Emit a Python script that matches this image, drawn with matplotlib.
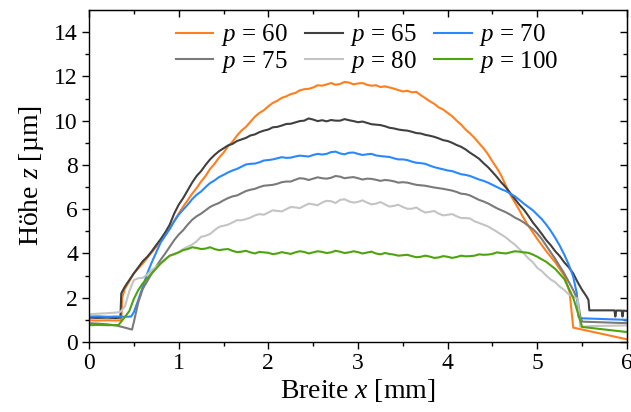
import matplotlib
matplotlib.use("Agg")
import matplotlib.pyplot as plt

plt.rcParams["font.family"] = ["Liberation Serif", "DejaVu Serif"]
plt.rcParams["mathtext.fontset"] = "custom"
plt.rcParams["mathtext.rm"] = "Liberation Serif"
plt.rcParams["mathtext.it"] = "Liberation Serif:italic"

# Height profiles z [µm] across the track width x [mm] for different p
x60 = [0, 0.1, 0.2, 0.3, 0.36, 0.37, 0.4, 0.5, 0.6, 0.7, 0.8, 0.9,
       1.0, 1.05, 1.1, 1.15, 1.2, 1.25, 1.3, 1.35, 1.4, 1.45, 1.5, 1.55, 1.6, 1.65, 1.7, 1.75,
       1.8, 1.85, 1.9, 1.95, 2.0, 2.05, 2.1, 2.15, 2.2, 2.25, 2.3, 2.35, 2.4, 2.45, 2.5, 2.55,
       2.6, 2.65, 2.7, 2.75, 2.8, 2.85, 2.9, 2.95, 3.0, 3.05, 3.1, 3.15, 3.2, 3.25, 3.3, 3.35,
       3.4, 3.45, 3.5, 3.55, 3.6, 3.65, 3.7, 3.75, 3.8, 3.85, 3.9, 3.95, 4.0, 4.05, 4.1, 4.15,
       4.2, 4.25, 4.3, 4.35, 4.4, 4.45, 4.5, 4.55, 4.6, 4.65, 4.7, 4.75, 4.8, 4.85, 4.9, 4.95,
       5.0, 5.1, 5.2, 5.3, 5.36, 5.4, 6.0]
z60 = [0.98, 0.97, 0.98, 0.97, 0.98, 2.0, 2.4, 3.1, 3.55, 4.05, 4.55, 5.15,
       5.8, 6.12, 6.4, 6.7, 6.95, 7.25, 7.5, 7.82, 8.05, 8.33, 8.55, 8.84, 9.05, 9.32, 9.55, 9.72,
       9.95, 10.18, 10.35, 10.47, 10.65, 10.8, 10.9, 11.03, 11.1, 11.2, 11.25, 11.37, 11.42, 11.44,
       11.5, 11.6, 11.58, 11.64, 11.7, 11.62, 11.66, 11.75, 11.72, 11.64, 11.68, 11.7, 11.62,
       11.58, 11.6, 11.52, 11.55, 11.5, 11.45, 11.38, 11.32, 11.35, 11.28, 11.3, 11.15, 11.02,
       10.88, 10.76, 10.6, 10.5, 10.35, 10.2, 10.0, 9.82, 9.6, 9.42, 9.22, 8.98, 8.75, 8.48,
       8.15, 7.85, 7.5, 7.05, 6.65, 6.3, 5.95, 5.58, 5.25, 4.95,
       4.65, 4.1, 3.6, 3.0, 2.25, 0.65, 0.12]

x65 = [0, 0.1, 0.2, 0.3, 0.35, 0.36, 0.4, 0.5, 0.6, 0.65, 0.7, 0.75, 0.8, 0.85, 0.9, 0.95,
       1.0, 1.05, 1.1, 1.15, 1.2, 1.25, 1.3, 1.35, 1.4, 1.45, 1.5, 1.55, 1.6, 1.65, 1.7, 1.75,
       1.8, 1.85, 1.9, 1.95, 2.0, 2.05, 2.1, 2.15, 2.2, 2.25, 2.3, 2.35, 2.4, 2.45, 2.5, 2.55,
       2.6, 2.65, 2.7, 2.75, 2.8, 2.85, 2.9, 2.95, 3.0, 3.05, 3.1, 3.15, 3.2, 3.25, 3.3, 3.35,
       3.4, 3.45, 3.5, 3.55, 3.6, 3.65, 3.7, 3.75, 3.8, 3.85, 3.9, 3.95, 4.0, 4.05, 4.1, 4.15,
       4.2, 4.25, 4.3, 4.35, 4.4, 4.45, 4.5, 4.55, 4.6, 4.65, 4.7, 4.75, 4.8, 4.85, 4.9, 4.95,
       5.0, 5.05, 5.1, 5.15, 5.2, 5.25, 5.3, 5.35, 5.4, 5.45, 5.5, 5.55, 5.57, 5.58,
       5.86, 5.87, 5.88, 5.94, 5.95, 5.96, 6.0]
z65 = [1.10, 1.09, 1.10, 1.08, 1.10, 2.2, 2.5, 3.1, 3.65, 3.85, 4.1, 4.38, 4.65, 4.95, 5.3, 5.8,
       6.2, 6.5, 6.85, 7.2, 7.5, 7.72, 8.0, 8.25, 8.45, 8.62, 8.75, 8.88, 8.95, 9.08, 9.15, 9.22,
       9.33, 9.38, 9.48, 9.55, 9.6, 9.7, 9.72, 9.78, 9.85, 9.86, 9.92, 9.98, 10.0, 10.1, 10.05,
       9.98, 10.02, 9.97, 10.03, 10.0, 10.0, 10.07, 10.02, 9.98, 9.93, 9.96, 9.9, 9.84, 9.82,
       9.8, 9.75, 9.68, 9.65, 9.6, 9.57, 9.55, 9.5, 9.44, 9.42, 9.36, 9.32, 9.27, 9.2, 9.12,
       9.08, 9.0, 8.9, 8.82, 8.7, 8.55, 8.42, 8.28, 8.08, 7.9, 7.68, 7.45, 7.2, 6.98, 6.72,
       6.46, 6.2, 5.98, 5.7, 5.4, 5.15, 4.88, 4.6, 4.37, 4.1, 3.88, 3.6, 3.38, 3.1, 2.7, 2.35,
       2.05, 1.9, 1.43, 1.43, 1.15, 1.42, 1.42, 1.15, 1.42, 1.40]

x70 = [0, 0.1, 0.2, 0.3, 0.4, 0.47, 0.5, 0.55, 0.6, 0.65, 0.7, 0.75, 0.8, 0.85, 0.9, 0.95,
       1.0, 1.05, 1.1, 1.15, 1.2, 1.25, 1.3, 1.35, 1.4, 1.45, 1.5, 1.55, 1.6, 1.65, 1.7, 1.75,
       1.8, 1.85, 1.9, 1.95, 2.0, 2.05, 2.1, 2.15, 2.2, 2.25, 2.3, 2.35, 2.4, 2.45, 2.5, 2.55,
       2.6, 2.65, 2.7, 2.75, 2.8, 2.85, 2.9, 2.95, 3.0, 3.05, 3.1, 3.15, 3.2, 3.25, 3.3, 3.35,
       3.4, 3.45, 3.5, 3.55, 3.6, 3.65, 3.7, 3.75, 3.8, 3.85, 3.9, 3.95, 4.0, 4.05, 4.1, 4.15,
       4.2, 4.25, 4.3, 4.35, 4.4, 4.45, 4.5, 4.55, 4.6, 4.65, 4.7, 4.75, 4.8, 4.85, 4.9, 4.95,
       5.0, 5.05, 5.1, 5.15, 5.2, 5.25, 5.3, 5.35, 5.4, 5.44, 5.46, 5.5, 6.0]
z70 = [1.15, 1.16, 1.14, 1.15, 1.14, 1.15, 1.35, 1.9, 2.5, 3.1, 3.6, 4.05, 4.5, 4.8, 5.1, 5.45,
       5.75, 5.98, 6.2, 6.45, 6.65, 6.8, 7.0, 7.18, 7.3, 7.45, 7.55, 7.66, 7.75, 7.82, 7.92, 8.02,
       8.05, 8.06, 8.12, 8.2, 8.22, 8.25, 8.3, 8.35, 8.32, 8.33, 8.38, 8.42, 8.4, 8.38, 8.45,
       8.5, 8.47, 8.5, 8.58, 8.6, 8.52, 8.48, 8.55, 8.56, 8.5, 8.45, 8.48, 8.5, 8.43, 8.4, 8.38,
       8.36, 8.3, 8.25, 8.25, 8.22, 8.15, 8.1, 8.08, 8.05, 7.97, 7.9, 7.85, 7.8, 7.75, 7.72,
       7.65, 7.58, 7.55, 7.5, 7.42, 7.34, 7.28, 7.2, 7.1, 7.0, 6.9, 6.82, 6.7, 6.58, 6.42, 6.25,
       6.1, 5.95, 5.75, 5.55, 5.3, 5.02, 4.7, 4.35, 3.95, 3.5, 2.95, 2.2, 1.13, 1.07, 1.0]

x75 = [0, 0.1, 0.2, 0.3, 0.4, 0.48, 0.5, 0.55, 0.6, 0.7, 0.8, 0.85, 0.9, 0.95,
       1.0, 1.05, 1.1, 1.15, 1.2, 1.25, 1.3, 1.35, 1.4, 1.45, 1.5, 1.55, 1.6, 1.65, 1.7, 1.75,
       1.8, 1.85, 1.9, 1.95, 2.0, 2.05, 2.1, 2.15, 2.2, 2.25, 2.3, 2.35, 2.4, 2.45, 2.5, 2.55,
       2.6, 2.65, 2.7, 2.75, 2.8, 2.85, 2.9, 2.95, 3.0, 3.05, 3.1, 3.15, 3.2, 3.25, 3.3, 3.35,
       3.4, 3.45, 3.5, 3.55, 3.6, 3.65, 3.7, 3.75, 3.8, 3.85, 3.9, 3.95, 4.0, 4.05, 4.1, 4.15,
       4.2, 4.25, 4.3, 4.35, 4.4, 4.45, 4.5, 4.55, 4.6, 4.65, 4.7, 4.75, 4.8, 4.85, 4.9, 4.95,
       5.0, 5.05, 5.1, 5.15, 5.2, 5.25, 5.3, 5.35, 5.4, 5.45, 5.48, 5.5, 6.0]
z75 = [0.85, 0.83, 0.8, 0.75, 0.65, 0.56, 0.9, 1.8, 2.4, 3.1, 3.72, 4.0, 4.3, 4.6,
       4.85, 5.05, 5.3, 5.52, 5.68, 5.8, 5.95, 6.1, 6.2, 6.28, 6.4, 6.5, 6.58, 6.62, 6.72, 6.82,
       6.88, 6.92, 7.0, 7.06, 7.08, 7.1, 7.15, 7.22, 7.25, 7.25, 7.33, 7.4, 7.38, 7.32, 7.38,
       7.44, 7.4, 7.38, 7.42, 7.5, 7.47, 7.4, 7.43, 7.45, 7.4, 7.34, 7.38, 7.37, 7.33, 7.28,
       7.32, 7.3, 7.26, 7.2, 7.22, 7.2, 7.15, 7.1, 7.08, 7.06, 7.02, 6.98, 6.95, 6.92, 6.88,
       6.84, 6.78, 6.7, 6.68, 6.62, 6.52, 6.42, 6.35, 6.26, 6.15, 6.04, 5.95, 5.86, 5.75, 5.62,
       5.52, 5.4, 5.25, 5.1, 4.9, 4.65, 4.35, 4.05, 3.75, 3.42, 3.1, 2.72, 2.35, 1.9, 1.13,
       0.92, 0.85]

x80 = [0, 0.1, 0.2, 0.3, 0.35, 0.4, 0.45, 0.5, 0.55, 0.6, 0.65, 0.7, 0.8, 0.85, 0.9, 0.95,
       1.0, 1.05, 1.1, 1.15, 1.2, 1.25, 1.3, 1.35, 1.4, 1.45, 1.5, 1.55, 1.6, 1.65, 1.7, 1.75,
       1.8, 1.85, 1.9, 1.95, 2.0, 2.05, 2.1, 2.15, 2.2, 2.25, 2.3, 2.35, 2.4, 2.45, 2.5, 2.55,
       2.6, 2.65, 2.7, 2.75, 2.8, 2.85, 2.9, 2.95, 3.0, 3.05, 3.1, 3.15, 3.2, 3.25, 3.3, 3.35,
       3.4, 3.45, 3.5, 3.55, 3.6, 3.65, 3.7, 3.75, 3.8, 3.85, 3.9, 3.95, 4.0, 4.05, 4.1, 4.15,
       4.2, 4.25, 4.3, 4.35, 4.4, 4.45, 4.5, 4.55, 4.6, 4.65, 4.7, 4.75, 4.8, 4.85, 4.9, 4.95,
       5.0, 5.05, 5.1, 5.15, 5.2, 5.25, 5.3, 5.35, 5.4, 5.45, 5.48, 5.6, 6.0]
z80 = [1.25, 1.28, 1.3, 1.33, 1.36, 1.6, 2.3, 2.8, 2.88, 2.9, 3.05, 3.25, 3.55, 3.75, 3.9, 3.95,
       4.05, 4.2, 4.3, 4.4, 4.55, 4.75, 4.8, 4.88, 5.05, 5.2, 5.25, 5.3, 5.4, 5.5, 5.5, 5.55,
       5.62, 5.72, 5.78, 5.75, 5.85, 5.95, 5.92, 5.9, 6.0, 6.1, 6.08, 6.05, 6.15, 6.25, 6.22,
       6.18, 6.3, 6.38, 6.36, 6.28, 6.42, 6.45, 6.35, 6.3, 6.33, 6.4, 6.3, 6.22, 6.25, 6.32,
       6.22, 6.12, 6.15, 6.2, 6.1, 6.02, 6.02, 6.08, 5.95, 5.85, 5.88, 5.92, 5.8, 5.72, 5.75,
       5.78, 5.68, 5.6, 5.6, 5.58, 5.45, 5.38, 5.3, 5.22, 5.1, 4.98, 4.85, 4.72, 4.55, 4.4, 4.2,
       4.0, 3.78, 3.6, 3.35, 3.2, 3.0, 2.82, 2.7, 2.5, 2.35, 2.15, 2.05, 1.95, 0.68, 0.72, 0.75]

x100 = [0, 0.1, 0.2, 0.3, 0.33, 0.4, 0.45, 0.5, 0.55, 0.6, 0.7, 0.8, 0.9,
        1.0, 1.05, 1.1, 1.15, 1.2, 1.25, 1.3, 1.35, 1.4, 1.45, 1.5, 1.55, 1.6, 1.65, 1.7, 1.75,
        1.8, 1.85, 1.9, 1.95, 2.0, 2.05, 2.1, 2.15, 2.2, 2.25, 2.3, 2.35, 2.4, 2.45, 2.5, 2.55,
        2.6, 2.65, 2.7, 2.75, 2.8, 2.85, 2.9, 2.95, 3.0, 3.05, 3.1, 3.15, 3.2, 3.25, 3.3, 3.35,
        3.4, 3.45, 3.5, 3.55, 3.6, 3.65, 3.7, 3.75, 3.8, 3.85, 3.9, 3.95, 4.0, 4.05, 4.1, 4.15,
        4.2, 4.25, 4.3, 4.35, 4.4, 4.45, 4.5, 4.55, 4.6, 4.65, 4.7, 4.75, 4.8, 4.85, 4.9, 4.95,
        5.0, 5.1, 5.2, 5.3, 5.4, 5.46, 5.5, 6.0]
z100 = [0.76, 0.77, 0.76, 0.76, 0.77, 1.13, 1.4, 1.95, 2.35, 2.65, 3.1, 3.55, 3.9,
        4.05, 4.15, 4.2, 4.28, 4.25, 4.2, 4.22, 4.28, 4.2, 4.15, 4.18, 4.2, 4.12, 4.06, 4.08,
        4.12, 4.05, 4.0, 4.07, 4.05, 4.03, 3.97, 4.0, 4.06, 4.02, 3.98, 4.05, 4.1, 4.07, 4.0,
        4.05, 4.1, 4.07, 4.02, 4.05, 4.12, 4.08, 4.02, 4.05, 4.1, 4.06, 4.0, 4.04, 4.08, 4.0,
        3.96, 4.02, 3.98, 3.95, 3.9, 3.92, 3.94, 3.88, 3.83, 3.85, 3.9, 3.86, 3.8, 3.82, 3.88,
        3.85, 3.8, 3.84, 3.9, 3.87, 3.88, 3.9, 3.96, 3.94, 3.95, 3.98, 4.05, 4.02, 4.0, 4.05,
        4.1, 4.08, 4.05, 4.03, 3.95, 3.85, 3.62, 3.3, 2.85, 2.0, 1.21, 0.68, 0.45]

labels = [r"$p$ = 60", r"$p$ = 65", r"$p$ = 70", r"$p$ = 75", r"$p$ = 80", r"$p$ = 100"]
colors = ["#ff7f1e", "#404040", "#2a88ff", "#7a7a7a", "#c4c4c4", "#4ea30f"]
series = [(x60, z60), (x65, z65), (x70, z70), (x75, z75), (x80, z80), (x100, z100)]

fig = plt.figure(figsize=(6.31, 4.12), dpi=100)
ax = fig.add_axes([89 / 631, 1 - 342 / 412, 538 / 631, 332 / 412])

handles = []
for (xs, zs), lab, col in zip(series, labels, colors):
    h, = ax.plot(xs, zs, color=col, lw=1.5, label=lab)
    handles.append(h)

ax.set_xlim(0, 6)
ax.set_ylim(0, 15)
ax.set_xticks(range(0, 7))
ax.set_yticks(range(0, 15, 2))
ax.set_xticks([i + 0.5 for i in range(6)], minor=True)
ax.set_yticks(range(1, 15, 2), minor=True)
ax.tick_params(which="both", direction="out", labelsize=17, width=1.0, pad=3,
               labelfontfamily="Liberation Serif")
ax.tick_params(which="major", length=5)
ax.tick_params(which="minor", length=3)
for s in ax.spines.values():
    s.set_linewidth(1.0)

top = ax.secondary_xaxis("top")
top.set_xticks(range(0, 7))
top.set_xticks([i + 0.5 for i in range(6)], minor=True)
top.tick_params(which="both", direction="in", labeltop=False, width=1.0)
top.tick_params(which="major", length=5)
top.tick_params(which="minor", length=3)

right = ax.secondary_yaxis("right")
right.set_yticks(range(0, 15, 2))
right.set_yticks(range(1, 15, 2), minor=True)
right.tick_params(which="both", direction="in", labelright=False, width=1.0)
right.tick_params(which="major", length=5)
right.tick_params(which="minor", length=3)

ax.set_xlabel(r"Breite $x$ [mm]", fontsize=20, labelpad=2)
ax.set_ylabel(r"Höhe $z$ [µm]", fontsize=20, labelpad=6)

# legend filled row by row: 60, 65, 70 / 75, 80, 100
order = [0, 3, 1, 4, 2, 5]
ax.legend([handles[i] for i in order], [labels[i] for i in order],
          ncol=3, frameon=False, fontsize=18, loc="upper center",
          bbox_to_anchor=(0.517, 1.0), handlelength=1.5, handletextpad=0.3,
          columnspacing=0.7, labelspacing=0.02, borderaxespad=0.1)

fig.savefig("out.png", dpi=100)
